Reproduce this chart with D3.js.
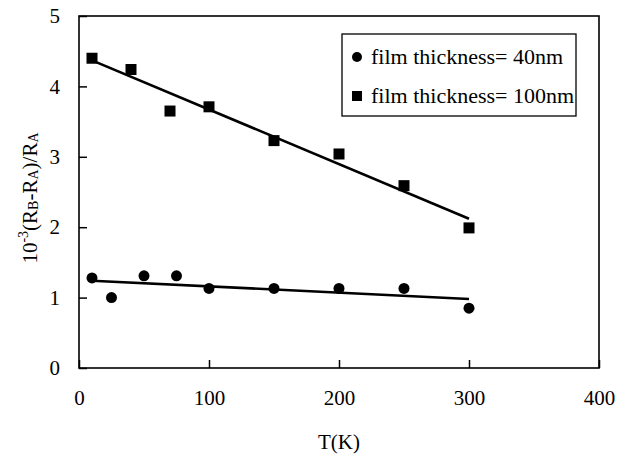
<!DOCTYPE html>
<html>
<head>
<meta charset="utf-8">
<script src="https://d3js.org/d3.v7.min.js"></script>
<style>
  body { margin: 0; background: white; }
</style>
</head>
<body>
<script>
  // data
  let temps40 = [10, 25, 50, 75, 100, 150, 200, 250, 300];
  let vals40 = [1.28, 1.00, 1.31, 1.31, 1.13, 1.13, 1.13, 1.13, 0.85];
  let temps100 = [10, 40, 70, 100, 150, 200, 250, 300];
  let vals100 = [4.40, 4.24, 3.65, 3.71, 3.23, 3.04, 2.59, 1.99];
  // fitted lines (end points)
  let fit40 = [[10, 1.24], [300, 0.98]];
  let fit100 = [[10, 4.37], [300, 2.12]];
  let xTicks = [0, 100, 200, 300, 400];
  let yTicks = [0, 1, 2, 3, 4, 5];
  let legendLabels = ["film thickness= 40nm", "film thickness= 100nm"];

  const W = 625, H = 464;
  const mLeft = 79, mRight = 599, mTop = 16, mBottom = 368;
  const serif = "'Liberation Serif', 'Times New Roman', Tinos, 'DejaVu Serif', serif";

  let svg = d3.select("body").append("svg")
    .attr("width", W)
    .attr("height", H)
    .attr("font-family", serif);

  let x = d3.scaleLinear().domain([0, 400]).range([mLeft, mRight]);
  let y = d3.scaleLinear().domain([0, 5]).range([mBottom, mTop]);

  // frame
  svg.append("rect")
    .attr("x", mLeft).attr("y", mTop)
    .attr("width", mRight - mLeft).attr("height", mBottom - mTop)
    .attr("fill", "none").attr("stroke", "black").attr("stroke-width", 1.6);

  // axes with inward ticks
  svg.append("g")
    .attr("transform", `translate(0,${mBottom})`)
    .call(d3.axisBottom(x).tickValues(xTicks).tickSize(-8).tickPadding(22).tickFormat(d3.format("d")))
    .attr("font-family", serif).attr("font-size", 21)
    .call(g => g.select(".domain").remove())
    .call(g => g.selectAll("line").attr("stroke-width", 1.5));

  svg.append("g")
    .attr("transform", `translate(${mLeft},0)`)
    .call(d3.axisLeft(y).tickValues(yTicks).tickSize(-8).tickPadding(19).tickFormat(d3.format("d")))
    .attr("font-family", serif).attr("font-size", 21)
    .call(g => g.select(".domain").remove())
    .call(g => g.selectAll("line").attr("stroke-width", 1.5));

  // fit lines
  let line = d3.line().x(d => x(d[0])).y(d => y(d[1]));
  [fit40, fit100].forEach(f => {
    svg.append("path")
      .attr("d", line(f))
      .attr("fill", "none")
      .attr("stroke", "black")
      .attr("stroke-width", 2.6);
  });

  // points
  svg.selectAll("circle.p40")
    .data(temps40.map((t, i) => [t, vals40[i]]))
    .enter()
    .append("circle")
    .attr("class", "p40")
    .attr("cx", d => x(d[0]))
    .attr("cy", d => y(d[1]))
    .attr("r", 5.5)
    .attr("fill", "black");

  const sq = 11;
  svg.selectAll("rect.p100")
    .data(temps100.map((t, i) => [t, vals100[i]]))
    .enter()
    .append("rect")
    .attr("class", "p100")
    .attr("x", d => x(d[0]) - sq / 2)
    .attr("y", d => y(d[1]) - sq / 2)
    .attr("width", sq)
    .attr("height", sq)
    .attr("fill", "black");

  // legend
  let lg = svg.append("g");
  lg.append("rect")
    .attr("x", 342).attr("y", 34)
    .attr("width", 234).attr("height", 82)
    .attr("fill", "white").attr("stroke", "black").attr("stroke-width", 1.3);
  lg.append("circle").attr("cx", 357).attr("cy", 57).attr("r", 5).attr("fill", "black");
  lg.append("rect").attr("x", 352).attr("y", 91).attr("width", 10).attr("height", 10).attr("fill", "black");
  lg.selectAll("text.lg")
    .data(legendLabels)
    .enter()
    .append("text")
    .attr("class", "lg")
    .attr("x", 371)
    .attr("y", (d, i) => 64 + i * 39)
    .attr("font-size", 22)
    .text(d => d);

  // axis titles
  svg.append("text")
    .attr("x", (mLeft + mRight) / 2)
    .attr("y", 449)
    .attr("text-anchor", "middle")
    .attr("font-size", 21)
    .text("T(K)");

  let yt = svg.append("text")
    .attr("transform", `translate(37,198) rotate(-90)`)
    .attr("text-anchor", "middle")
    .attr("font-size", 21);
  yt.append("tspan").text("10");
  yt.append("tspan").attr("dy", -9).attr("font-size", 14).text("-3");
  yt.append("tspan").attr("dy", 9).text("(R");
  yt.append("tspan").attr("dy", 1).attr("font-size", 14).text("B");
  yt.append("tspan").attr("dy", -1).text("-R");
  yt.append("tspan").attr("dy", 1).attr("font-size", 14).text("A");
  yt.append("tspan").attr("dy", -1).text(")/R");
  yt.append("tspan").attr("dy", 1).attr("font-size", 14).text("A");
</script>
</body>
</html>
